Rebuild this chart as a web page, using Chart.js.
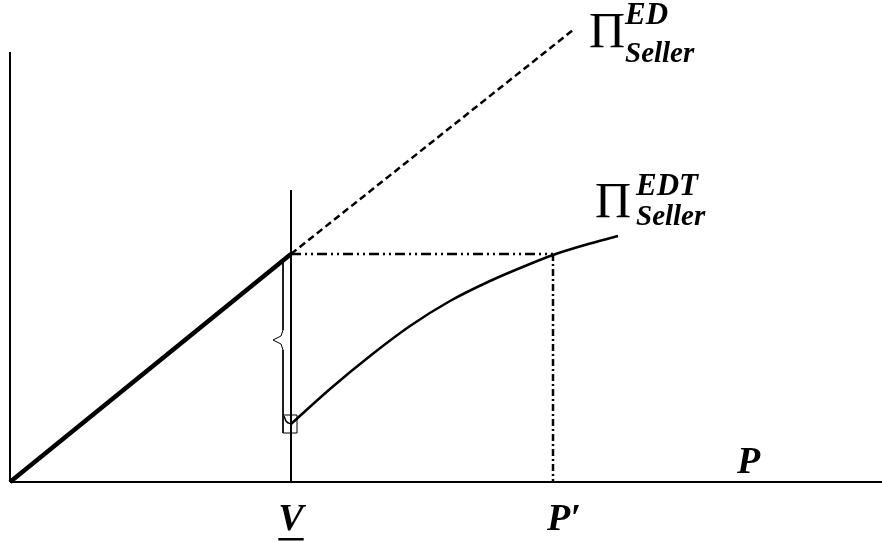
<!DOCTYPE html>
<html>
<head>
<meta charset="utf-8">
<script src="https://cdn.jsdelivr.net/npm/chart.js@4.4.1/dist/chart.umd.min.js"></script>
<style>
html,body{margin:0;padding:0;background:#fff;}
#wrap{width:882px;height:542px;}
</style>
</head>
<body>
<div id="wrap"><canvas id="chart"></canvas></div>
<script>
// Values (units: px from the origin, y up)
const axisX = [[0,0],[872,0]];
const axisY = [[0,0],[0,430]];
const sellerED = [[0,0],[281,228]];          // thick part, up to V
const sellerEDdash = [[281,228],[563,452]];   // dashed continuation
const vLine = [[281,0],[281,292]];
const hLevel = [[281,228],[543,228]];
const pLine = [[543,228],[543,0]];
const sellerEDT = [[281,58],[320,93],[360,126],[400,156],[440,181],[480,201],[515,216],[543,227],[575,237],[608,246]];
const jumpHook = [[274,66],[276,61],[281,58]];
const jumpBox = [[273,49],[287,49],[287,67],[273,67],[273,49]];
const brace = [[273,220],[273,152],[271,146],[263,142],[271,138],[273,132],[273,67]];

const tickValues = [281,543];
const tickLabels = ["V","P\u2032"];

function pts(a){ return a.map(p => ({x:p[0], y:p[1]})); }
function ln(data, width, dash, smooth){
  return {data:pts(data), showLine:true, borderColor:'#000', borderWidth:width,
    borderDash:dash||[], pointRadius:0, tension:smooth ? 0.4 : 0,
    cubicInterpolationMode: smooth ? 'monotone' : 'default', clip:false, fill:false};
}

const serif = '"Liberation Serif", "DejaVu Serif", serif';

const labels = {
  id:'labels',
  afterDatasetsDraw(chart){
    const c = chart.ctx, xs = chart.scales.x;
    c.save();
    c.fillStyle = '#000';
    c.textBaseline = 'alphabetic';
    c.textAlign = 'left';
    // Pi labels
    c.font = '50px ' + serif;
    c.fillText('\u03A0', 589, 47);
    c.fillText('\u03A0', 595, 217);
    c.font = 'italic bold 31px ' + serif;
    c.fillText('ED', 625, 24);
    c.fillText('EDT', 636, 195);
    c.font = 'italic bold 29px ' + serif;
    c.fillText('Seller', 625, 62);
    c.fillText('Seller', 636, 225);
    // axis label
    c.font = 'italic bold 38px ' + serif;
    c.fillText('P', 737, 473);
    // tick labels
    tickValues.forEach((v,i) => {
      const x = xs.getPixelForValue(v);
      const w = c.measureText(tickLabels[i]).width;
      const left = i === 0 ? x - w/2 : x - 6;
      c.fillText(tickLabels[i], left, 530);
      if(i === 0){
        c.fillRect(left, 538, w, 2.5);
      }
    });
    c.restore();
  }
};

new Chart(document.getElementById('chart'), {
  type:'scatter',
  data:{datasets:[
    ln(axisX,2),
    ln(axisY,2),
    ln(vLine,2),
    ln(sellerED,4.5),
    ln(sellerEDdash,2.5,[7,4]),
    ln(hLevel,2.5,[10,4,2,4,2,4]),
    ln(pLine,2.5,[7,3,2,3]),
    ln(sellerEDT,2.5,[],true),
    ln(jumpHook,1.5,[],true),
    ln(jumpBox,1),
    ln(brace,1)
  ]},
  options:{
    responsive:true,
    maintainAspectRatio:false,
    animation:false,
    layout:{padding:{left:10,right:0,top:0,bottom:60}},
    plugins:{legend:{display:false},tooltip:{enabled:false}},
    scales:{
      x:{type:'linear',min:0,max:872,display:false},
      y:{type:'linear',min:0,max:482,display:false}
    }
  },
  plugins:[labels]
});
</script>
</body>
</html>
